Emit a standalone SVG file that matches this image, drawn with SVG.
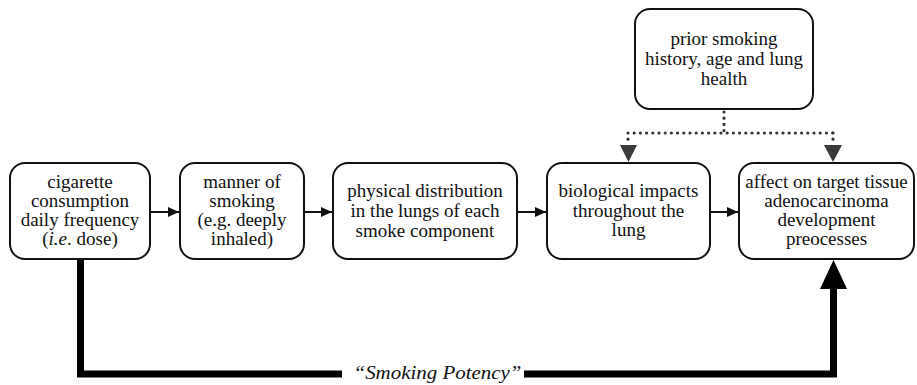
<svg xmlns="http://www.w3.org/2000/svg" width="917" height="385" viewBox="0 0 917 385">
<style>
.box{fill:#fff;stroke:#111;stroke-width:2}
text{font-family:"Liberation Serif","Times New Roman",serif;font-size:19px;fill:#111;text-anchor:middle}
.ln{stroke:#111;stroke-width:2;fill:none}
.dot{stroke:#333;stroke-width:3.2;stroke-linecap:round;stroke-dasharray:0 6.2;fill:none}
.thick{stroke:#000;stroke-width:7;fill:none;stroke-linejoin:miter}
</style>
<defs>
<marker id="ah" markerWidth="12" markerHeight="12" refX="11" refY="6" orient="auto" markerUnits="userSpaceOnUse">
<path d="M0,1 L11,6 L0,11 Z" fill="#111"/>
</marker>
</defs>
<rect width="917" height="385" fill="#fff"/>
<g id="connectors">
<line class="ln" x1="151" y1="212" x2="179" y2="212" marker-end="url(#ah)"/>
<line class="ln" x1="305" y1="212" x2="332" y2="212" marker-end="url(#ah)"/>
<line class="ln" x1="518" y1="212" x2="546" y2="212" marker-end="url(#ah)"/>
<line class="ln" x1="711" y1="212" x2="738" y2="212" marker-end="url(#ah)"/>
<path class="dot" d="M724,112 L724,133 M628,133 L833,133 M628,133 L628,142 M833,133 L833,142"/>
<path d="M620,145 L637,145 L628.5,162 Z" fill="#3a3a3a"/>
<path d="M824,145 L842,145 L833,162 Z" fill="#3a3a3a"/>
<path class="thick" d="M80.5,259 L80.5,374 L342,374"/>
<path class="thick" d="M524,374 L833.5,374 L833.5,287"/>
<path d="M820,289 L847,289 L833.5,260 Z" fill="#000"/>
<text x="437.5" y="379" textLength="168" lengthAdjust="spacingAndGlyphs" style="font-size:19px;font-style:italic">“Smoking Potency”</text>
</g>
<g id="node1">
<rect class="box" x="10" y="163" width="140" height="96" rx="15"/>
<text x="80" y="187.5">cigarette</text>
<text x="80" y="206.5">consumption</text>
<text x="80" y="225.5">daily frequency</text>
<text x="80" y="245">(<tspan font-style="italic">i.e</tspan>. dose)</text>
</g>
<g id="node2">
<rect class="box" x="180" y="163" width="124" height="96" rx="15"/>
<text x="242" y="187.5">manner of</text>
<text x="242" y="206.5">smoking</text>
<text x="242" y="225.5">(e.g. deeply</text>
<text x="242" y="245">inhaled)</text>
</g>
<g id="node3">
<rect class="box" x="333" y="163" width="184" height="96" rx="15"/>
<text x="425" y="197">physical distribution</text>
<text x="425" y="217">in the lungs of each</text>
<text x="425" y="237">smoke component</text>
</g>
<g id="node4">
<rect class="box" x="547" y="163" width="163" height="96" rx="15"/>
<text x="628.5" y="197">biological impacts</text>
<text x="628.5" y="216.5">throughout the</text>
<text x="628.5" y="236">lung</text>
</g>
<g id="node5">
<rect class="box" x="739" y="163" width="175" height="96" rx="15"/>
<text x="826.5" y="187.5">affect on target tissue</text>
<text x="826.5" y="206.5">adenocarcinoma</text>
<text x="826.5" y="225.5">development</text>
<text x="826.5" y="245">preocesses</text>
</g>
<g id="node6">
<rect class="box" x="635" y="9" width="178" height="100" rx="15"/>
<text x="724" y="45">prior smoking</text>
<text x="724" y="65">history, age and lung</text>
<text x="724" y="85">health</text>
</g>
</svg>
